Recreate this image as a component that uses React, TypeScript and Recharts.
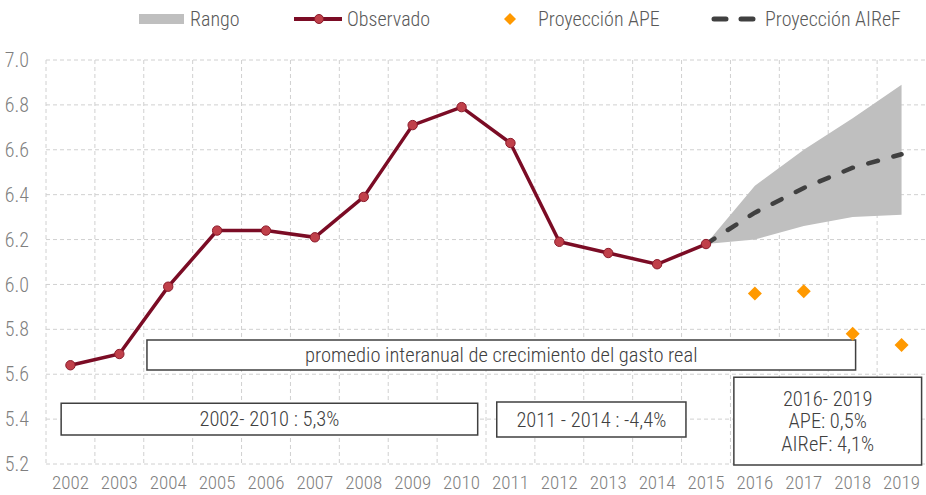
import React from "react";
import {
  ComposedChart, Line, Area, XAxis, YAxis, CartesianGrid, ReferenceArea, Legend,
} from "recharts";

const FONT = "'Roboto Condensed', 'Liberation Sans Narrow', 'DejaVu Sans Condensed', Roboto, sans-serif";

const years = [2002, 2003, 2004, 2005, 2006, 2007, 2008, 2009, 2010, 2011, 2012, 2013, 2014, 2015, 2016, 2017, 2018, 2019];
const observado = [5.64, 5.69, 5.99, 6.24, 6.24, 6.21, 6.39, 6.71, 6.79, 6.63, 6.19, 6.14, 6.09, 6.18, null, null, null, null];
const proyAiref = [null, null, null, null, null, null, null, null, null, null, null, null, null, 6.18, 6.32, 6.43, 6.52, 6.58];
const rangoLow = [null, null, null, null, null, null, null, null, null, null, null, null, null, 6.18, 6.2, 6.26, 6.3, 6.31];
const rangoHigh = [null, null, null, null, null, null, null, null, null, null, null, null, null, 6.18, 6.44, 6.6, 6.74, 6.89];
const proyApe = [null, null, null, null, null, null, null, null, null, null, null, null, null, null, 5.96, 5.97, 5.78, 5.73];
const yTicks = [5.2, 5.4, 5.6, 5.8, 6.0, 6.2, 6.4, 6.6, 6.8, 7.0];

const data = years.map((year, i) => ({
  year,
  obs: observado[i],
  airef: proyAiref[i],
  ape: proyApe[i],
  rango: rangoLow[i] != null ? [rangoLow[i], rangoHigh[i]] : null,
}));

const Diamond = (props: any) => {
  const { cx, cy, value } = props;
  if (value == null || cy == null || isNaN(cy)) return null;
  const s = 7;
  return <polygon points={`${cx},${cy - s} ${cx + s},${cy} ${cx},${cy + s} ${cx - s},${cy}`} fill="#ff9900" />;
};

const BoxLabel = ({ viewBox, lines }: any) => {
  if (!viewBox) return null;
  const { x, y, width, height } = viewBox;
  const lh = 22.5;
  const y0 = y + height / 2 - ((lines.length - 1) * lh) / 2;
  return (
    <text x={x + width / 2} y={y0} textAnchor="middle"
      fontFamily={FONT} fontSize={20.5} fill="#404040" fontWeight={300}>
      {lines.map((l: string, i: number) => (
        <tspan key={i} x={x + width / 2} y={y0 + i * lh} dy="0.35em">{l}</tspan>
      ))}
    </text>
  );
};

const legendText = { fontSize: 20, fill: "#595959", fontWeight: 300 } as const;

const LegendContent = () => (
  <svg width={926} height={34} style={{ fontFamily: FONT, display: "block" }}>
    <rect x={139} y={14} width={45} height={10} fill="#bfbfbf" />
    <text x={190} y={19} dy="0.35em" {...legendText}>Rango</text>
    <line x1={294} y1={19} x2={342} y2={19} stroke="#7b0c25" strokeWidth={4} />
    <circle cx={319} cy={19} r={4.5} fill="#c0404a" stroke="#8b1a2a" />
    <text x={347} y={19} dy="0.35em" {...legendText}>Observado</text>
    <polygon points="510,13 516,19 510,25 504,19" fill="#ff9900" />
    <text x={538} y={19} dy="0.35em" {...legendText}>Proyección APE</text>
    <line x1={714} y1={19} x2={753} y2={19} stroke="#404040" strokeWidth={5} strokeDasharray="12 15" strokeLinecap="round" />
    <text x={765} y={19} dy="0.35em" {...legendText}>Proyección AIReF</text>
  </svg>
);

export default function App() {
  return (
    <div style={{ position: "absolute", left: 0, top: 0, background: "#fff" }}>
      <ComposedChart width={926} height={495} data={data} margin={{ top: 60, right: 0, bottom: 0, left: 0 }}>
        <CartesianGrid
          stroke="#d0d0d0"
          strokeDasharray="4 3"
          verticalCoordinatesGenerator={({ offset }: any) =>
            years.map((_, i) => offset.left + (offset.width * i) / years.length)
          }
        />
        <XAxis
          dataKey="year" type="number" domain={[2001.5, 2019.5]} ticks={years} interval={0}
          axisLine={false} tickLine={false} height={31} tickMargin={6}
          tick={{ fontSize: 19, fill: "#7f7f7f", fontFamily: FONT, fontWeight: 300 }}
        />
        <YAxis
          domain={[5.2, 7.0]} ticks={yTicks} width={46} axisLine={false} tickLine={false} tickMargin={11}
          tickFormatter={(v: number) => v.toFixed(1)}
          tick={{ fontSize: 20, fill: "#7f7f7f", fontFamily: FONT, fontWeight: 300 }}
        />
        <Legend verticalAlign="middle" align="center" layout="horizontal" content={<LegendContent />}
          wrapperStyle={{ top: 0, left: 0, width: 926, height: 34 }} />
        <Area dataKey="rango" fill="#bfbfbf" fillOpacity={1} stroke="none" isAnimationActive={false} />
        <Line dataKey="airef" stroke="#404040" strokeWidth={4.5} strokeDasharray="10 16" strokeLinecap="round"
          dot={false} isAnimationActive={false} />
        <Line dataKey="obs" stroke="#7b0c25" strokeWidth={3.5} isAnimationActive={false}
          dot={{ r: 4.7, fill: "#c0404a", stroke: "#8b1a2a", strokeWidth: 1 }} />
        <Line dataKey="ape" stroke="none" dot={<Diamond />} isAnimationActive={false} />
        <ReferenceArea x1={2003.565} x2={2018.06} y1={5.619} y2={5.752} fill="#fff" fillOpacity={1}
          stroke="#404040" strokeWidth={1.5} ifOverflow="visible"
          label={<BoxLabel lines={["promedio interanual de crecimiento del gasto real"]} />} />
        <ReferenceArea x1={2001.81} x2={2010.33} y1={5.329} y2={5.471} fill="#fff" fillOpacity={1}
          stroke="#404040" strokeWidth={1.5} ifOverflow="visible"
          label={<BoxLabel lines={["2002- 2010 : 5,3%"]} />} />
        <ReferenceArea x1={2010.72} x2={2014.59} y1={5.32} y2={5.476} fill="#fff" fillOpacity={1}
          stroke="#404040" strokeWidth={1.5} ifOverflow="visible"
          label={<BoxLabel lines={["2011 - 2014 : -4,4%"]} />} />
        <ReferenceArea x1={2015.57} x2={2019.41} y1={5.195} y2={5.587} fill="#fff" fillOpacity={1}
          stroke="#404040" strokeWidth={1.5} ifOverflow="visible"
          label={<BoxLabel lines={["2016- 2019", "APE: 0,5%", "AIReF: 4,1%"]} />} />
      </ComposedChart>
    </div>
  );
}
